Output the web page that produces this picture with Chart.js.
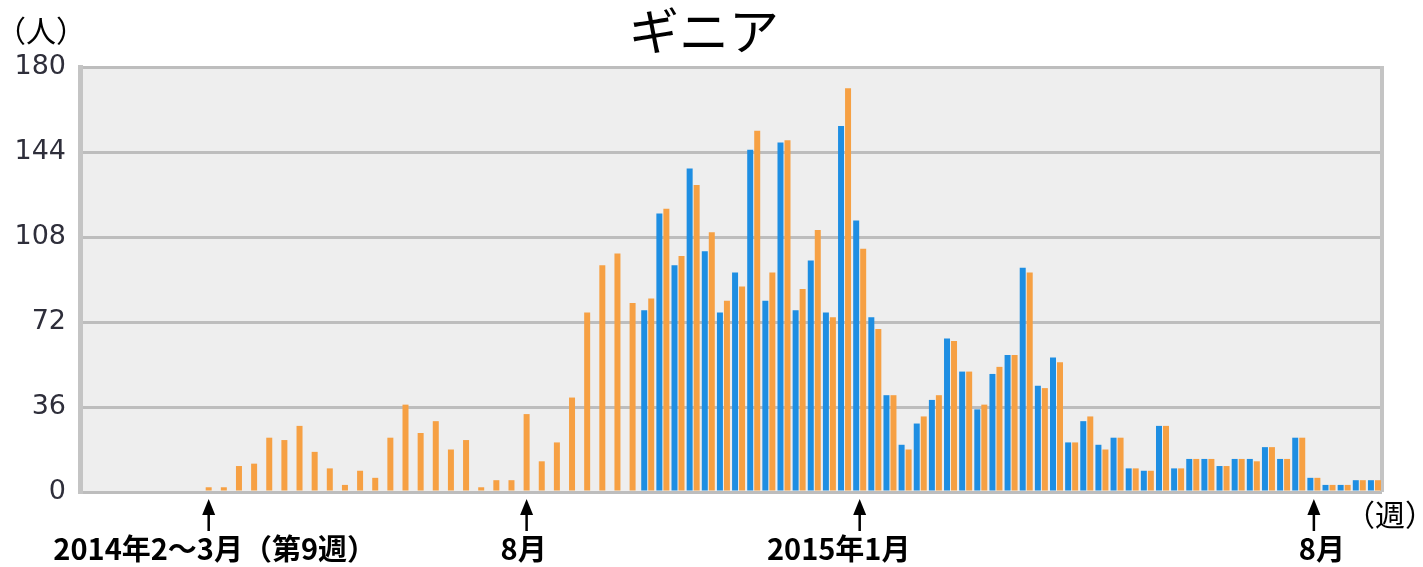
<!DOCTYPE html>
<html>
<head>
<meta charset="utf-8">
<script src="https://cdn.jsdelivr.net/npm/chart.js@4/dist/chart.umd.min.js"></script>
<style>
  html, body { margin: 0; padding: 0; background: #fff; }
</style>
</head>
<body>
<canvas id="guineaChart" width="1423" height="567"></canvas>
<script>
// weekly cases, Guinea (2014 wk1 .. 2015 wk34)
const weeks = [];
for (let w = 1; w <= 52; w++) weeks.push("2014-W" + w);
for (let w = 1; w <= 34; w++) weeks.push("2015-W" + w);

const blueCases = [
  null, null, null, null, null, null, null, null, null, null,
  null, null, null, null, null, null, null, null, null, null,
  null, null, null, null, null, null, null, null, null, null,
  null, null, null, null, null, null, null,
  77, 118, 96, 137, 102, 76, 93, 145, 81, 148,
  77, 98, 76, 155, 115, 74, 41, 20, 29, 39,
  65, 51, 35, 50, 58, 95, 45, 57, 21, 30,
  20, 23, 10, 9, 28, 10, 14, 14, 11, 14,
  14, 19, 14, 23, 6, 3, 3, 5, 5
];

const orangeCases = [
  0, 0, 0, 0, 0, 0, 0, 0, 2, 2,
  11, 12, 23, 22, 28, 17, 10, 3, 9, 6,
  23, 37, 25, 30, 18, 22, 2, 5, 5, 33,
  13, 21, 40, 76, 96, 101, 80,
  82, 120, 100, 130, 110, 81, 87, 153, 93, 149,
  86, 111, 74, 171, 103, 69, 41, 18, 32, 41,
  64, 51, 37, 53, 58, 93, 44, 55, 21, 32,
  18, 23, 10, 9, 28, 10, 14, 14, 11, 14,
  13, 19, 14, 23, 6, 3, 3, 5, 5
];

const yTicks = [0, 36, 72, 108, 144, 180];

const chartTitle = "ギニア";
const yUnit = "（人）";
const xUnit = "（週）";
const markerWeeks = [8, 29, 51, 81];
const markerLabels = ["2014年2～3月（第9週）", "8月", "2015年1月", "8月"];

// label nudges relative to the arrows
const markerLabelShift = [6, -3, -21, 8];

const frame = {
  id: "frame",
  beforeDraw(chart) {
    const { ctx, chartArea: a } = chart;
    ctx.save();
    ctx.fillStyle = "#eeeeee";
    ctx.fillRect(a.left, a.top, a.right - a.left, a.bottom - a.top);
    ctx.restore();
  },
  beforeDatasetsDraw(chart) {
    const { ctx, chartArea: a } = chart;
    ctx.save();
    ctx.strokeStyle = "#c4c4c4";
    ctx.lineWidth = 4;
    ctx.beginPath();
    ctx.moveTo(a.right, a.top - 1);
    ctx.lineTo(a.right, a.bottom);
    ctx.stroke();
    ctx.restore();
  },
  afterDraw(chart) {
    const { ctx, scales } = chart;
    ctx.save();
    ctx.fillStyle = "#000";
    ctx.textAlign = "center";
    ctx.textBaseline = "middle";

    ctx.font = '50px "Noto Sans CJK JP"';
    ctx.fillText(chartTitle, 704, 31);

    ctx.font = '30px "Noto Sans CJK JP"';
    ctx.fillText(yUnit, 41, 31);
    ctx.fillText(xUnit, 1390, 515);

    // arrows + labels under the axis
    ctx.strokeStyle = "#000";
    ctx.lineWidth = 2.5;
    ctx.font = 'bold 29px "Noto Sans CJK JP"';
    markerWeeks.forEach((idx, k) => {
      const x = scales.x.getPixelForValue(idx);
      ctx.beginPath();
      ctx.moveTo(x, 512);
      ctx.lineTo(x, 531);
      ctx.stroke();
      ctx.beginPath();
      ctx.moveTo(x, 499);
      ctx.lineTo(x - 6.5, 515);
      ctx.lineTo(x + 6.5, 515);
      ctx.closePath();
      ctx.fill();
      ctx.fillText(markerLabels[k], x + markerLabelShift[k], 549);
    });
    ctx.restore();
  }
};

const ctx = document.getElementById("guineaChart");

const guineaChart = new Chart(ctx, {
  type: "bar",
  data: {
    labels: weeks,
    datasets: [
      {
        label: "blue",
        data: blueCases,
        backgroundColor: "#1e8ee2",
        skipNull: true,
        categoryPercentage: 0.925,
        barPercentage: 0.86,
        maxBarThickness: 6,
      },
      {
        label: "orange",
        data: orangeCases,
        backgroundColor: "#f6a043",
        skipNull: true,
        categoryPercentage: 0.925,
        barPercentage: 0.86,
        maxBarThickness: 6,
      },
    ],
  },
  options: {
    responsive: false,
    animation: false,
    layout: { padding: { left: 0, right: 41, top: 67, bottom: 75 } },
    plugins: {
      legend: { display: false },
      title: { display: false },
      tooltip: { enabled: false },
    },
    scales: {
      x: { display: false },
      y: {
        min: 0,
        max: 180,
        afterFit(scale) { scale.width = 80; },
        afterBuildTicks(scale) { scale.ticks = yTicks.map(v => ({ value: v })); },
        grid: { color: "#bdbdbd", lineWidth: 3, drawTicks: false },
        border: { color: "#c4c4c4", width: 5 },
        ticks: {
          padding: 14,
          color: "#2e2e3a",
          font: { family: "DejaVu Sans", size: 27 },
        },
      },
    },
  },
  plugins: [frame],
});
</script>
</body>
</html>
